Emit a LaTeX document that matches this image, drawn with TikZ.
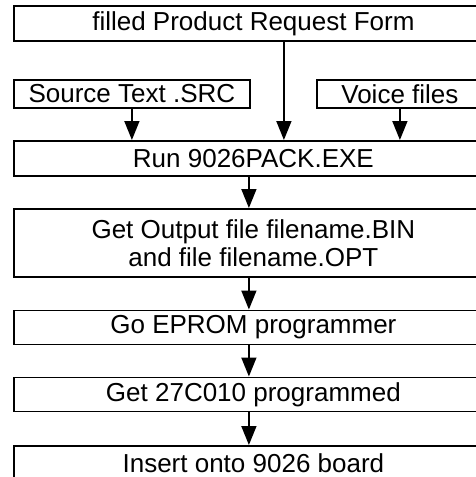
\documentclass[tikz,border=0pt]{standalone}
\usepackage{fontspec}
\setmainfont{Liberation Sans}
\usetikzlibrary{arrows.meta}
\tikzset{
  box/.style={draw, line width=1.8pt, rectangle, inner sep=0pt, anchor=north west, align=center,
    font=\fontsize{26}{28}\selectfont},
  arr/.style={line width=1.6pt, -{Triangle[length=19pt,width=15pt]}}
}
\begin{document}
\begin{tikzpicture}[x=1pt,y=-1pt]
\useasboundingbox (0,0) rectangle (476,477);
\clip (0,0) rectangle (476,477);
\node[box, minimum width=479pt, minimum height=35pt] (top) at (13,5) {filled Product Request Form};
\node[box, minimum width=236pt, minimum height=28pt] (src) at (13,79) {Source Text .SRC};
\node[box, minimum width=166pt, minimum height=28pt] (voice) at (316,79) {Voice files};
\node[box, minimum width=479pt, minimum height=35pt] (run) at (13,140) {Run 9026PACK.EXE};
\node[box, minimum width=479pt, minimum height=68pt] (out) at (13,208) {Get Output file filename.BIN\\and file filename.OPT};
\node[box, minimum width=479pt, minimum height=34pt] (go) at (13,309.5) {Go EPROM programmer};
\node[box, minimum width=479pt, minimum height=34pt] (get) at (13,376.5) {Get 27C010 programmed};
\node[box, minimum width=479pt, minimum height=34pt] (ins) at (13,445) {Insert onto 9026 board};
\draw[arr] ([xshift=30.5pt]top.south) -- ([xshift=30.5pt]top.south |- run.north);
\draw[arr] (src.south) -- (src.south |- run.north);
\draw[arr] (voice.south) -- (voice.south |- run.north);
\draw[arr] ([xshift=-4.5pt]run.south) -- ([xshift=-4.5pt]run.south |- out.north);
\draw[arr] ([xshift=-4.5pt]out.south) -- ([xshift=-4.5pt]out.south |- go.north);
\draw[arr] ([xshift=-4.5pt]go.south) -- ([xshift=-4.5pt]go.south |- get.north);
\draw[arr] ([xshift=-4.5pt]get.south) -- ([xshift=-4.5pt]get.south |- ins.north);
\end{tikzpicture}
\end{document}
